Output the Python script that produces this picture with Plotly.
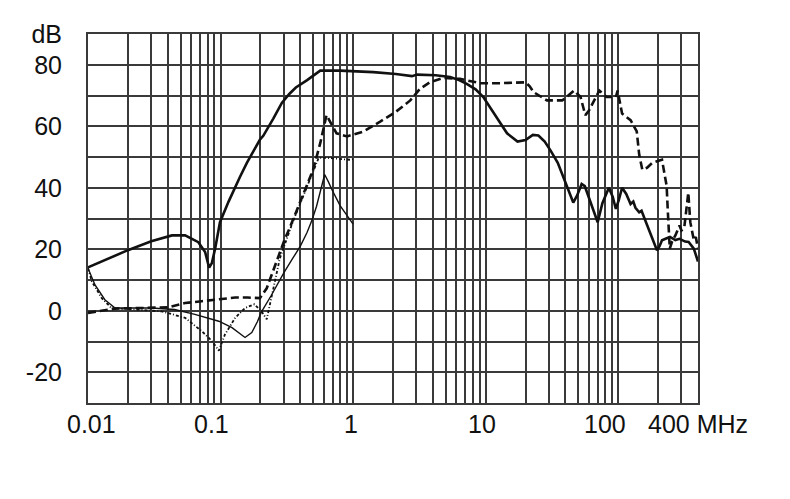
import math
import plotly.graph_objects as go

# Main thick solid curve
f_main = [0.01, 0.02, 0.03, 0.043, 0.054, 0.068, 0.0765, 0.082, 0.086, 0.091, 0.099, 0.115,
          0.14, 0.158, 0.198, 0.21, 0.25, 0.29, 0.33, 0.37, 0.45, 0.5, 0.565, 0.8, 1.42, 2.1, 2.78, 3.04,
          4.2, 5.4, 6.3, 7.2, 8.4, 9.6, 12.1, 14.5, 17.4, 20, 22.7, 25, 27.9, 31, 35, 40,
          45.8, 49, 53, 56, 62, 70, 76, 85, 91, 96, 101, 107, 115, 124, 130, 135, 144, 150,
          164, 180, 196, 205, 214, 230, 246, 270, 290, 320, 340, 372, 400]
db_main = [14.1, 19.7, 22.6, 24.5, 24.5, 22.3, 19.1, 14.0, 15.5, 20.2, 28.8, 35.5,
           43.5, 48.1, 55.6, 56.9, 62.5, 67.6, 70.5, 72.6, 75.0, 76.5, 78.1, 78.1, 77.6, 77.0, 76.3, 76.8,
           76.6, 76.0, 75.0, 73.8, 72.0, 69.5, 63.1, 57.7, 55.0, 55.5, 57.2, 57.0, 55.0, 52.0, 48.1, 42.0,
           35.2, 37.5, 41.2, 40.5, 35.0, 28.8, 35.0, 40.0, 37.0, 33.1, 36.0, 40.0, 38.0, 34.7, 35.5, 33.5, 32.0, 32.5,
           28.2, 24.0, 19.7, 21.0, 22.9, 23.5, 24.0, 23.0, 23.4, 22.5, 22.4, 20.2, 16.0]

# Thick dashed curve
f_dash = [0.01, 0.016, 0.04, 0.054, 0.072, 0.097, 0.129, 0.16, 0.198, 0.223, 0.28, 0.306,
          0.33, 0.40, 0.5, 0.565, 0.63, 0.67, 0.75, 0.9, 1.07, 1.2, 1.6, 2.1, 2.7, 3.2, 3.8,
          4.8, 6.4, 9.1, 12.9, 17.4, 20, 21.5, 23, 29, 37.8, 42, 46.5, 52, 56.5, 60, 64, 72,
          81.8, 96, 99, 107, 124, 138, 144, 152, 165, 181, 214, 232, 237, 245, 255, 270, 290,
          300, 315, 338, 350, 372, 385, 400]
db_dash = [-0.7, 0.7, 1.1, 2.5, 3.1, 3.6, 4.3, 4.3, 4.1, 7.3, 19.1, 23.4,
           26.6, 35.5, 45.9, 54.5, 63.6, 61.5, 57.7, 56.7, 57.7, 58.3, 61.5, 64.7, 68.4, 72.2, 74.3,
           75.7, 75.4, 74.0, 74.0, 74.2, 74.3, 73.0, 71.1, 68.4, 68.4, 70.0, 71.6, 69.5, 63.6, 65.0, 67.4, 71.6,
           69.5, 69.5, 71.6, 64.1, 62.0, 58.3, 50.8, 45.9, 46.5, 48.1, 49.1, 40.6, 32.0, 20.2, 22.5, 24.5, 27.7,
           26.1, 27.0, 38.4, 28.8, 23.0, 24.0, 20.2]

# Thin solid curve
f_thin = [0.01, 0.0113, 0.0134, 0.016, 0.03, 0.045, 0.064, 0.097, 0.122, 0.14, 0.153, 0.172,
          0.19, 0.204, 0.21, 0.24, 0.266, 0.3, 0.35, 0.4, 0.45, 0.49, 0.53, 0.57, 0.61, 0.65, 0.69, 0.8, 1.0]
db_thin = [13.8, 8.4, 3.6, 0.9, 0.9, 0.4, -1.2, -3.4, -5.5, -7.5, -8.7, -7.1,
           -3.5, -0.2, 0.6, 4.8, 8.4, 12.3, 17.0, 21.0, 25.5, 29.5, 34.0, 39.0, 44.3, 42.0, 39.5, 34.1, 28.2]

# Dotted curve
f_dot = [0.01, 0.0107, 0.0127, 0.015, 0.036, 0.054, 0.072, 0.086, 0.097, 0.108, 0.129, 0.153,
         0.18, 0.204, 0.223, 0.236, 0.28, 0.35, 0.40, 0.5, 0.55, 0.6, 0.95, 1.0]
db_dot = [13.8, 9.5, 4.1, 0.9, -0.2, -2.3, -6.6, -9.8, -13.0, -7.7, -2.3, 0.9,
          2.1, -0.2, -2.8, 2.0, 17.0, 28.8, 35.0, 45.0, 49.7, 49.8, 49.1, 49.3]

x_ticks = [0.01, 0.1, 1, 10, 100, 400]
x_labels = ["0.01", "0.1", "1", "10", "100", "400 MHz"]
x_label_nudge = [3, -9, -2, -4, -13, 0]   # the printed labels sit slightly off their grid lines
x_minor = [m * d for d in [0.01, 0.1, 1, 10] for m in range(2, 10)] + [200, 300]
y_ticks = [-20, 0, 20, 40, 60, 80, 90]
y_labels = ["-20", "0", "20", "40", "60", "80", "dB"]
y_minor = [-10, 10, 30, 50, 70]

ink = "#111111"
gridc = "#3a3a3a"
font_family = "Liberation Sans, Arial, sans-serif"

fig = go.Figure()
fig.add_trace(go.Scatter(x=f_dot, y=db_dot, mode="lines",
                         line=dict(color=ink, width=1.8, dash="3px,2px,1px,2px")))
fig.add_trace(go.Scatter(x=f_thin, y=db_thin, mode="lines",
                         line=dict(color=ink, width=1.4)))
fig.add_trace(go.Scatter(x=f_dash, y=db_dash, mode="lines",
                         line=dict(color=ink, width=2.6, dash="8px,4px")))
fig.add_trace(go.Scatter(x=f_main, y=db_main, mode="lines",
                         line=dict(color=ink, width=2.6)))

# x labels as annotations (log axis: annotation x is given in log10 units)
for xv, txt, dx in zip(x_ticks, x_labels, x_label_nudge):
    fig.add_annotation(x=math.log10(xv), y=0, xref="x", yref="paper", text=txt, showarrow=False,
                       xanchor="center", yanchor="middle", xshift=dx, yshift=-21,
                       font=dict(family=font_family, size=25, color=ink))

# page body has an 8px margin: compensate so the plot area sits at x 88-698, y 29-403
fig.update_layout(
    width=790, height=499,
    margin=dict(l=80, r=100, t=21, b=104),
    paper_bgcolor="white", plot_bgcolor="white",
    showlegend=False,
    font=dict(family=font_family, size=25, color=ink),
)
fig.update_xaxes(
    type="log", range=[-2, 2.60206],
    tickvals=x_ticks, showticklabels=False,
    showgrid=True, gridcolor=gridc, gridwidth=2,
    minor=dict(tickvals=x_minor, showgrid=True, gridcolor=gridc, gridwidth=1.5, ticks=""),
    showline=True, linecolor=gridc, linewidth=2, mirror=True,
    ticks="", zeroline=False,
)
fig.update_yaxes(
    range=[-30, 90],
    tickvals=y_ticks, ticktext=y_labels,
    showgrid=True, gridcolor=gridc, gridwidth=1.8,
    minor=dict(tickvals=y_minor, showgrid=True, gridcolor=gridc, gridwidth=1.8, ticks=""),
    showline=True, linecolor=gridc, linewidth=2, mirror=True,
    ticks="outside", ticklen=19, tickcolor="rgba(0,0,0,0)",
    zeroline=False,
)

fig.write_html("out.html")
